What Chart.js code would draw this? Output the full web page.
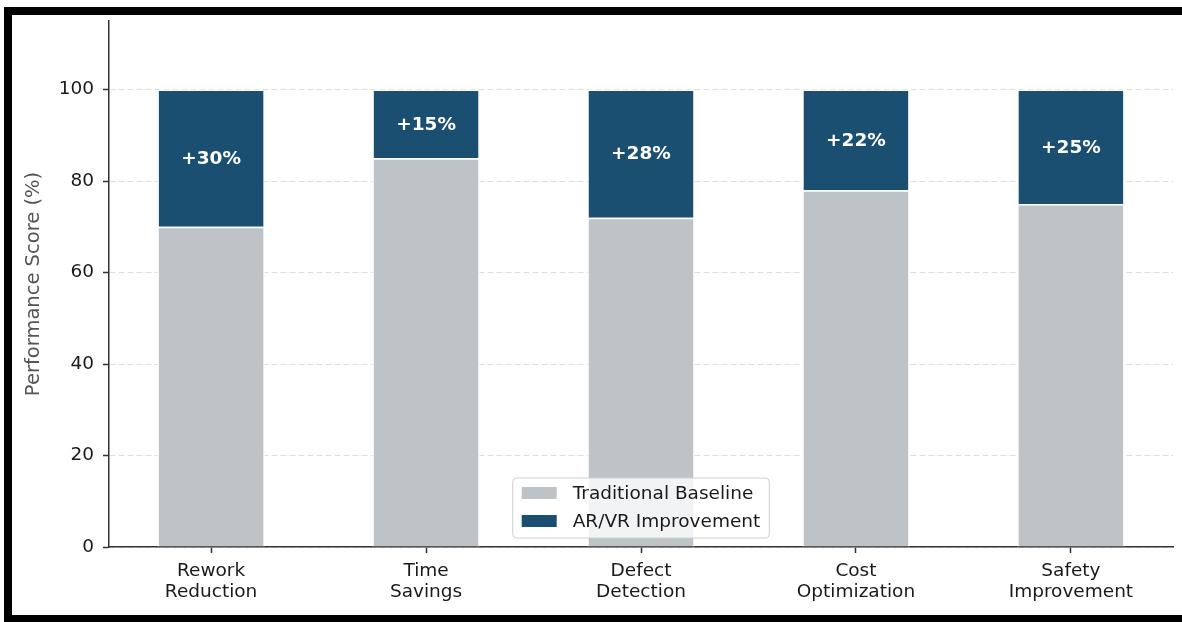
<!DOCTYPE html>
<html>
<head>
<meta charset="utf-8">
<script src="https://cdn.jsdelivr.net/npm/chart.js@4.4.1/dist/chart.umd.min.js"></script>
<style>
  html, body { margin: 0; padding: 0; background: #fff; }
  #wrap { position: relative; width: 1182px; height: 622px; overflow: hidden; }
  #frame { position: absolute; left: 4px; top: 7px; width: 1200px; height: 616px;
           border: 8px solid #000; box-sizing: border-box; pointer-events: none; }
  canvas { position: absolute; left: 0; top: 0; }
</style>
</head>
<body>
<div id="wrap">
  <canvas id="perf" width="1182" height="622"></canvas>
  <div id="frame"></div>
</div>
<script>
const categories = [["Rework", "Reduction"], ["Time", "Savings"], ["Defect", "Detection"], ["Cost", "Optimization"], ["Safety", "Improvement"]];
const baselineScores = [70, 85, 72, 78, 75];
const arvrGains = [30, 15, 28, 22, 25];
const yTicks = [0, 20, 40, 60, 80, 100];

const FONT = "'DejaVu Sans', sans-serif";
const GRAY = "#bdc3c7";
const NAVY = "#1b4f72";

// white "+NN%" labels in the middle of the improvement segments
const gainLabels = {
    id: "gainLabels",
    afterDatasetsDraw(chart) {
        const ctx = chart.ctx;
        const meta = chart.getDatasetMeta(1);
        ctx.save();
        ctx.fillStyle = "#fff";
        ctx.font = "bold 18.5px " + FONT;
        ctx.textAlign = "center";
        ctx.textBaseline = "middle";
        meta.data.forEach((bar, i) => {
            ctx.fillText("+" + arvrGains[i] + "%", bar.x, (bar.y + bar.base) / 2 + 1);
        });
        ctx.restore();
    }
};

// matplotlib-like framed legend at lower center of the plot
const boxLegend = {
    id: "boxLegend",
    afterDraw(chart) {
        const ctx = chart.ctx;
        const area = chart.chartArea;
        const sets = chart.data.datasets;
        ctx.save();
        ctx.font = "18.5px " + FONT;
        let maxW = 0;
        sets.forEach(d => { maxW = Math.max(maxW, ctx.measureText(d.label).width); });
        const w = 9 + 35 + 16 + maxW + 9;
        const h = 60;
        const x = (area.left + area.right) / 2 - w / 2;
        const y = area.bottom - 9 - h;
        ctx.beginPath();
        ctx.roundRect(x, y, w, h, 4);
        ctx.fillStyle = "rgba(255,255,255,0.8)";
        ctx.fill();
        ctx.strokeStyle = "#d0d0d0";
        ctx.lineWidth = 1;
        ctx.stroke();
        ctx.textBaseline = "middle";
        sets.forEach((d, i) => {
            const cy = y + 15 + i * 28;
            ctx.fillStyle = d.backgroundColor;
            ctx.fillRect(x + 9, cy - 6, 35, 12);
            ctx.fillStyle = "#1a1a1a";
            ctx.fillText(d.label, x + 60, cy + 1);
        });
        ctx.restore();
    }
};

new Chart(document.getElementById("perf"), {
    type: "bar",
    data: {
        datasets: [
            {
                label: "Traditional Baseline",
                data: baselineScores.map((v, i) => ({ x: i, y: v })),
                backgroundColor: GRAY,
                borderColor: "#fff",
                borderWidth: 1.5,
            },
            {
                label: "AR/VR Improvement",
                data: arvrGains.map((v, i) => ({ x: i, y: v })),
                backgroundColor: NAVY,
                borderColor: "#fff",
                borderWidth: 1.5,
            },
        ],
    },
    plugins: [gainLabels, boxLegend],
    options: {
        responsive: false,
        animation: false,
        categoryPercentage: 1,
        barPercentage: 0.5,
        layout: { padding: { left: 12, top: 21, right: 9, bottom: 0 } },
        plugins: {
            legend: { display: false },
            tooltip: { enabled: false },
        },
        scales: {
            x: {
                type: "linear",
                stacked: true,
                offset: false,
                min: -0.475,
                max: 4.475,
                afterBuildTicks: scale => { scale.ticks = categories.map((c, i) => ({ value: i })); },
                afterFit: scale => { scale.height = 75; },
                grid: {
                    offset: false,
                    drawOnChartArea: false,
                    drawTicks: true,
                    tickLength: 6,
                    tickWidth: 1.5,
                    tickColor: "#333",
                },
                border: { color: "#333", width: 1.5 },
                ticks: {
                    color: "#1a1a1a",
                    font: { family: FONT, size: 18.5, lineHeight: 1.13 },
                    padding: 8,
                    maxRotation: 0,
                    callback: v => categories[v],
                },
            },
            y: {
                stacked: true,
                min: 0,
                max: 115,
                afterBuildTicks: scale => { scale.ticks = yTicks.map(v => ({ value: v })); },
                afterFit: scale => { scale.width = 97; },
                grid: {
                    color: "rgba(200,200,200,0.6)",
                    lineWidth: 1,
                    tickLength: 6,
                    tickWidth: 1.5,
                    tickColor: "#333",
                },
                border: { color: "#333", width: 1.5, dash: [6, 3] },
                ticks: {
                    color: "#1a1a1a",
                    font: { family: FONT, size: 18.5 },
                    padding: 9,
                },
                title: {
                    display: true,
                    text: "Performance Score (%)",
                    color: "#555",
                    font: { family: FONT, size: 19.5 },
                    padding: { top: 10, bottom: 0 },
                },
            },
        },
    },
});
</script>
</body>
</html>
